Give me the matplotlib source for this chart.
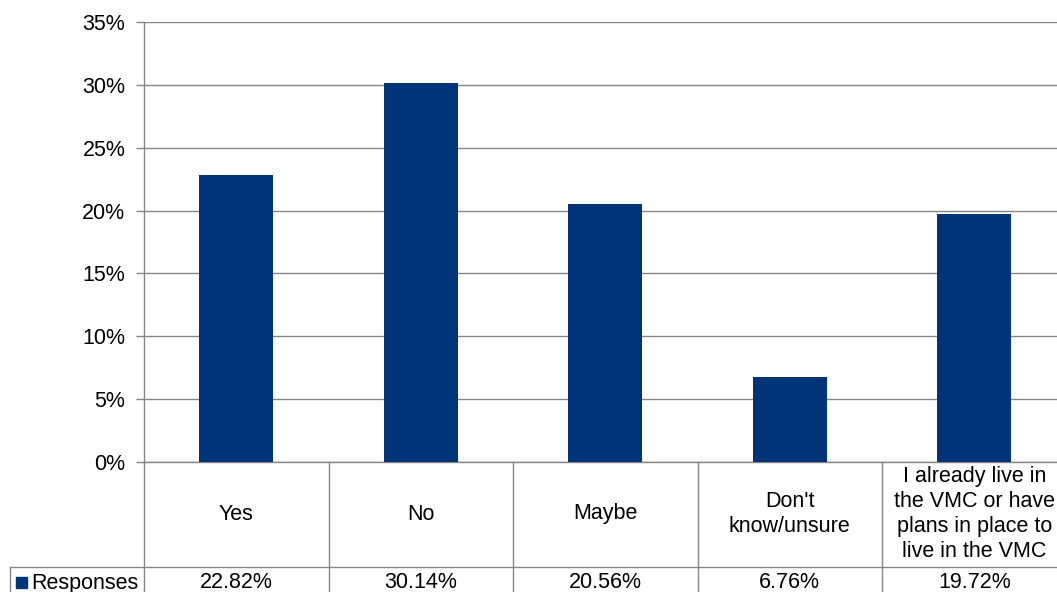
import matplotlib.pyplot as plt
from matplotlib.patches import Rectangle
from matplotlib.ticker import FuncFormatter, MultipleLocator

categories = ["Yes", "No", "Maybe", "Don't\nknow/unsure",
              "I already live in\nthe VMC or have\nplans in place to\nlive in the VMC"]
responses = [22.82, 30.14, 20.56, 6.76, 19.72]
series_name = "Responses"
value_labels = ["22.82%", "30.14%", "20.56%", "6.76%", "19.72%"]

bar_color = "#003478"
grid_color = "#868686"
fs = 15.5

plt.rcParams["font.family"] = ["Liberation Sans", "DejaVu Sans"]

W, H = 1057, 592
fig = plt.figure(figsize=(W / 100, H / 100), dpi=100)
# plot area in pixels: x 144..1066 (runs past the right edge), y 22..462
ax = fig.add_axes([144 / W, 1 - 462 / H, 922.5 / W, 440 / H])

x = list(range(len(categories)))
ax.bar(x, responses, width=0.4, color=bar_color, zorder=3)

ax.set_xlim(-0.5, len(categories) - 0.5)
ax.set_ylim(0, 35)
ax.yaxis.set_major_locator(MultipleLocator(5))
ax.yaxis.set_major_formatter(FuncFormatter(lambda v, p: f"{v:.0f}%"))
ax.grid(axis="y", color=grid_color, linewidth=1, zorder=0)
ax.set_xticks([])
ax.tick_params(axis="y", length=6, width=1, color=grid_color, pad=7.5, labelsize=fs)

for s in ["top", "right"]:
    ax.spines[s].set_visible(False)
for s in ["left", "bottom"]:
    ax.spines[s].set_color(grid_color)
    ax.spines[s].set_linewidth(1)

# data table below the axis
px = 1 / 440  # one pixel in axes fraction (vertical)
row1_bottom = -105 * px
tr = ax.get_xaxis_transform()
for b in [-0.5 + i for i in range(len(categories) + 1)]:
    ax.plot([b, b], [0, -0.5], transform=tr, color=grid_color, lw=1, clip_on=False)
# horizontal line between category row and value row, extends into legend cell
x_left_legend = -0.5 - (144 - 10) / 184.5
ax.plot([x_left_legend, len(categories)], [row1_bottom, row1_bottom], transform=tr,
        color=grid_color, lw=1, clip_on=False)
ax.plot([x_left_legend, x_left_legend], [row1_bottom, -0.5], transform=tr,
        color=grid_color, lw=1, clip_on=False)

for i, (cat, lab) in enumerate(zip(categories, value_labels)):
    ax.text(i, -52 * px, cat, transform=tr, ha="center", va="center",
            fontsize=fs, linespacing=1.25, clip_on=False)
    ax.text(i, -121 * px, lab, transform=tr, ha="center", va="center",
            fontsize=fs, clip_on=False)

# legend key in the table
fig.add_artist(Rectangle((16 / W, 1 - 588 / H), 11 / W, 11 / H,
                         transform=fig.transFigure, color=bar_color))
fig.text(31 / W, 1 - 583 / H, series_name, fontsize=fs, ha="left", va="center")

fig.savefig("out.png", dpi=100)
